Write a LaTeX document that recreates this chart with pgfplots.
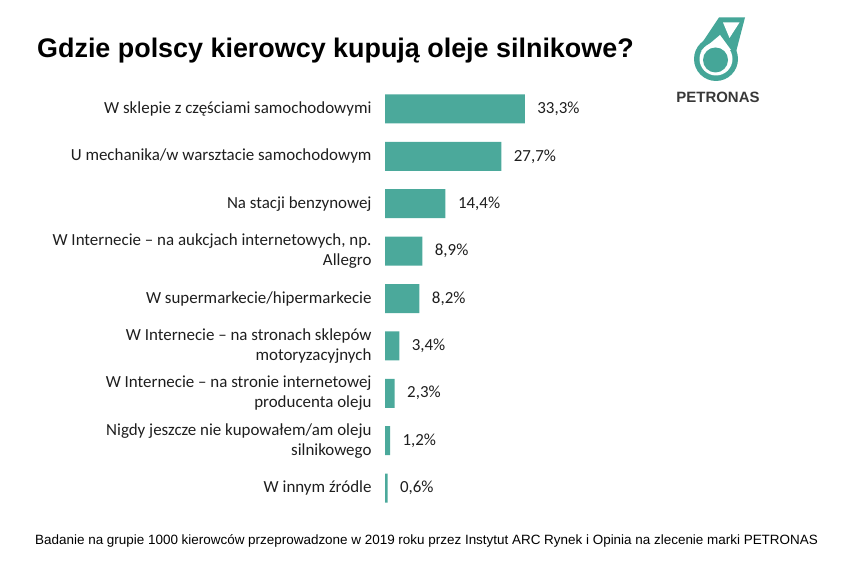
\documentclass[border=0pt]{standalone}
\usepackage{pgfplots}
\pgfplotsset{compat=1.18}
\usepackage{fontspec}
\setmainfont{Carlito}
\newfontfamily\arial{Liberation Sans}
\definecolor{bar}{HTML}{4BA99B}
\definecolor{logo}{HTML}{45A698}
\definecolor{lbl}{HTML}{1E1E1E}
\begin{document}
\begin{tikzpicture}[x=1bp,y=1bp]
\path[use as bounding box] (0,0) rectangle (852,571);
\begin{axis}[
  at={(385bp,59.3bp)}, anchor=south west,
  scale only axis, width=168bp, height=426.4bp,
  xbar, bar width=29bp,
  xmin=0, xmax=40, ymin=-0.5, ymax=8.5, y dir=reverse,
  axis line style={draw=none}, major tick length=0pt,
  xtick=\empty, ytick={0,...,8},
  yticklabels={
    {W sklepie z częściami samochodowymi},
    {U mechanika/w warsztacie samochodowym},
    {Na stacji benzynowej},
    {W Internecie – na aukcjach internetowych, np.\\Allegro},
    {W supermarkecie/hipermarkecie},
    {W Internecie – na stronach sklepów\\motoryzacyjnych},
    {W Internecie – na stronie internetowej\\producenta oleju},
    {Nigdy jeszcze nie kupowałem/am oleju\\silnikowego},
    {W innym źródle}},
  y tick label style={align=right, font=\fontsize{17}{20}\selectfont, text=lbl, xshift=-10bp},
  /pgf/number format/assume math mode=true,
  nodes near coords={\pgfmathprintnumber[fixed,fixed zerofill,precision=1,use comma,assume math mode=true]{\pgfplotspointmeta}\%},
  every node near coord/.append style={font=\fontsize{17}{20}\selectfont, text=lbl, xshift=9bp},
]
\addplot[fill=bar, draw=none] coordinates {
 (33.3,0) (27.7,1) (14.4,2) (8.9,3) (8.2,4) (3.4,5) (2.3,6) (1.2,7) (0.6,8)};
\end{axis}
\begin{scope}[yshift=571bp, yscale=-1]
  \node[anchor=base west, inner sep=0, font=\arial\bfseries\fontsize{27}{32}\selectfont] at (37,58) {Gdzie polscy kierowcy kupują oleje silnikowe?};
  \node[anchor=west, inner sep=0, font=\arial\fontsize{13.5}{16}\selectfont] at (35,541) {Badanie na grupie 1000 kierowców przeprowadzone w 2019 roku przez Instytut ARC Rynek i Opinia na zlecenie marki PETRONAS};
  % logo
  \fill[logo] (716,59) circle (22);
  \fill[logo] (719,17.5) -- (745,17.5) -- (736,52) -- (696,52) -- cycle;
  \fill[white] (716,59) circle (16.5);
  \fill[white] (720,35) -- (731,50) -- (701,51) -- cycle;
  \fill[white] (723,22.5) -- (739.5,22.5) -- (729.5,38) -- cycle;
  \fill[logo] (715.5,60) circle (12.5);
  \node[inner sep=0, font=\arial\bfseries\fontsize{15}{17}\selectfont, text=black!78] at (718,97) {PETRONAS};
\end{scope}
\end{tikzpicture}
\end{document}
